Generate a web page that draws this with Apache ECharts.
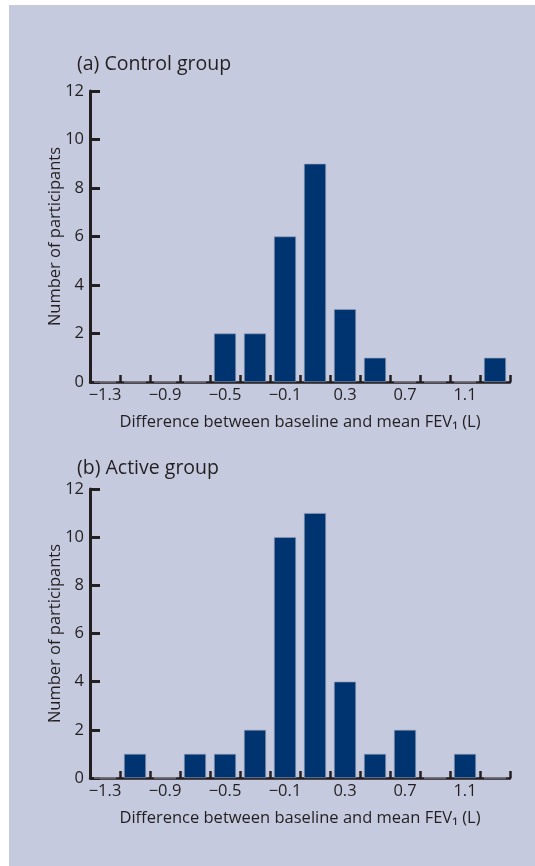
<!DOCTYPE html>
<html>
<head>
<meta charset="utf-8">
<style>
html,body{margin:0;padding:0;background:#ffffff;}
#bg{position:absolute;left:9px;top:5px;width:526px;height:861px;background:#c5cadf;}
#chart{position:absolute;left:0;top:0;width:535px;height:866px;}
</style>
<script src="https://cdn.jsdelivr.net/npm/echarts@6/dist/echarts.min.js"></script>
</head>
<body>
<div id="bg"></div>
<div id="chart"></div>
<script>
var categories = ['\u22121.3','\u22121.1','\u22120.9','\u22120.7','\u22120.5','\u22120.3','\u22120.1','0.1','0.3','0.5','0.7','0.9','1.1','1.3'];
var controlCounts = [0,0,0,0,2,2,6,9,3,1,0,0,0,1];
var activeCounts  = [0,1,0,1,1,2,10,11,4,1,2,0,1,0];
var titles = ['(a) Control group', '(b) Active group'];
var xName = 'Difference between baseline and mean FEV\u2081 (L)';
var yName = 'Number of participants';

var FONT = 'Open Sans';
var TXT = '#231f20';
var BAR = '#003471';

function xAxisCfg(idx){
  return {
    type:'category', gridIndex:idx, data:categories,
    boundaryGap:true,
    name:xName, nameLocation:'middle', nameGap:32, nameMoveOverlap:false,
    nameTextStyle:{fontFamily:FONT, fontSize:16.5, color:TXT},
    axisLine:{lineStyle:{color:'#231f20', width:2.5}},
    axisTick:{show:true, inside:true, length:7, interval:0, lineStyle:{color:'#231f20', width:2.5}},
    axisLabel:{interval:1, fontFamily:FONT, fontSize:16.5, color:TXT, margin:5}
  };
}
function yAxisCfg(idx){
  return {
    type:'value', gridIndex:idx, min:0, max:12, interval:2,
    name:yName, nameLocation:'middle', nameGap:26, nameMoveOverlap:false,
    nameTextStyle:{fontFamily:FONT, fontSize:16.5, color:TXT},
    axisLine:{show:true, lineStyle:{color:'#231f20', width:3}},
    axisTick:{show:true, inside:true, length:10, lineStyle:{color:'#231f20', width:3}},
    axisLabel:{fontFamily:FONT, fontSize:16.5, color:TXT, margin:6},
    splitLine:{show:false}
  };
}
function barSeries(idx, data){
  return {
    type:'bar', xAxisIndex:idx, yAxisIndex:idx, data:data,
    barWidth:22,
    itemStyle:{color:BAR, borderColor:'#9aa0b4', borderWidth:0.6},
    z:1
  };
}

var chart = echarts.init(document.getElementById('chart'), null, {renderer:'canvas'});
chart.setOption({
  backgroundColor:'transparent',
  animation:false,
  title:[
    {text:titles[0], left:77, top:54, padding:0, textStyle:{fontFamily:FONT, fontSize:19.5, fontWeight:'normal', color:TXT}},
    {text:titles[1], left:77, top:458, padding:0, textStyle:{fontFamily:FONT, fontSize:19.5, fontWeight:'normal', color:TXT}}
  ],
  grid:[
    {left:90, top:91, width:420, height:291},
    {left:90, top:489, width:420, height:289}
  ],
  xAxis:[xAxisCfg(0), xAxisCfg(1)],
  yAxis:[yAxisCfg(0), yAxisCfg(1)],
  series:[barSeries(0, controlCounts), barSeries(1, activeCounts)]
});
</script>
</body>
</html>
